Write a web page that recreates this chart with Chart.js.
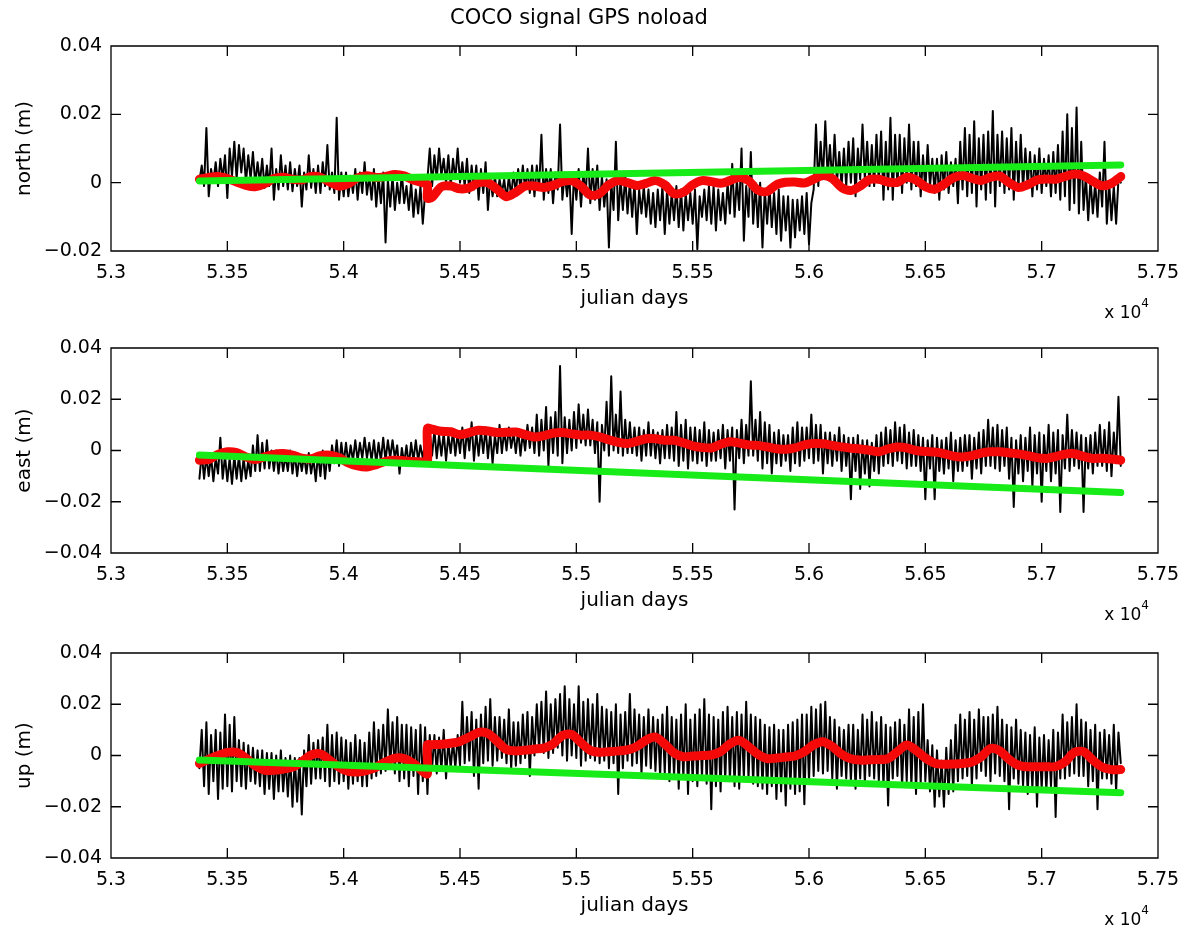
<!DOCTYPE html>
<html>
<head>
<meta charset="utf-8">
<title>COCO signal GPS noload</title>
<script src="https://cdn.jsdelivr.net/npm/chart.js@4.4.1/dist/chart.umd.min.js"></script>
<style>
  html, body { margin: 0; padding: 0; background: #fff; overflow: hidden; }
  #fig { position: relative; width: 1191px; height: 928px; }
  #fig canvas { position: absolute; left: 0; }
</style>
</head>
<body>
<div id="fig">
  <canvas id="north" width="1191" height="321" style="top:0px"></canvas>
  <canvas id="east" width="1191" height="321" style="top:302px"></canvas>
  <canvas id="up" width="1191" height="321" style="top:607px"></canvas>
</div>
<script>
// sample days (MJD) of the GPS series, every 10 days
var obsDays = [
    53380, 53390, 53400, 53410, 53420, 53430, 53440, 53450, 53460, 53470, 53480, 53490, 53500, 53510, 53520, 53530, 53540, 53550, 53560, 53570,
    53580, 53590, 53600, 53610, 53620, 53630, 53640, 53650, 53660, 53670, 53680, 53690, 53700, 53710, 53720, 53730, 53740, 53750, 53760, 53770,
    53780, 53790, 53800, 53810, 53820, 53830, 53840, 53850, 53860, 53870, 53880, 53890, 53900, 53910, 53920, 53930, 53940, 53950, 53960, 53970,
    53980, 53990, 54000, 54010, 54020, 54030, 54040, 54050, 54060, 54070, 54080, 54090, 54100, 54110, 54120, 54130, 54140, 54150, 54160, 54170,
    54180, 54190, 54200, 54210, 54220, 54230, 54240, 54250, 54260, 54270, 54280, 54290, 54300, 54310, 54320, 54330, 54340, 54350, 54360, 54370,
    54380, 54390, 54400, 54410, 54420, 54430, 54440, 54450, 54460, 54470, 54480, 54490, 54500, 54510, 54520, 54530, 54540, 54550, 54560, 54570,
    54580, 54590, 54600, 54610, 54620, 54630, 54640, 54650, 54660, 54670, 54680, 54690, 54700, 54710, 54720, 54730, 54740, 54750, 54760, 54770,
    54780, 54790, 54800, 54810, 54820, 54830, 54840, 54850, 54860, 54870, 54880, 54890, 54900, 54910, 54920, 54930, 54940, 54950, 54960, 54970,
    54980, 54990, 55000, 55010, 55020, 55030, 55040, 55050, 55060, 55070, 55080, 55090, 55100, 55110, 55120, 55130, 55140, 55150, 55160, 55170,
    55180, 55190, 55200, 55210, 55220, 55230, 55240, 55250, 55260, 55270, 55280, 55290, 55300, 55310, 55320, 55330, 55340, 55350, 55360, 55370,
    55380, 55390, 55400, 55410, 55420, 55430, 55440, 55450, 55460, 55470, 55480, 55490, 55500, 55510, 55520, 55530, 55540, 55550, 55560, 55570,
    55580, 55590, 55600, 55610, 55620, 55630, 55640, 55650, 55660, 55670, 55680, 55690, 55700, 55710, 55720, 55730, 55740, 55750, 55760, 55770,
    55780, 55790, 55800, 55810, 55820, 55830, 55840, 55850, 55860, 55870, 55880, 55890, 55900, 55910, 55920, 55930, 55940, 55950, 55960, 55970,
    55980, 55990, 56000, 56010, 56020, 56030, 56040, 56050, 56060, 56070, 56080, 56090, 56100, 56110, 56120, 56130, 56140, 56150, 56160, 56170,
    56180, 56190, 56200, 56210, 56220, 56230, 56240, 56250, 56260, 56270, 56280, 56290, 56300, 56310, 56320, 56330, 56340, 56350, 56360, 56370,
    56380, 56390, 56400, 56410, 56420, 56430, 56440, 56450, 56460, 56470, 56480, 56490, 56500, 56510, 56520, 56530, 56540, 56550, 56560, 56570,
    56580, 56590, 56600, 56610, 56620, 56630, 56640, 56650, 56660, 56670, 56680, 56690, 56700, 56710, 56720, 56730, 56740, 56750, 56760, 56770,
    56780, 56790, 56800, 56810, 56820, 56830, 56840, 56850, 56860, 56870, 56880, 56890, 56900, 56910, 56920, 56930, 56940, 56950, 56960, 56970,
    56980, 56990, 57000, 57010, 57020, 57030, 57040, 57050, 57060, 57070, 57080, 57090, 57100, 57110, 57120, 57130, 57140, 57150, 57160, 57170,
    57180, 57190, 57200, 57210, 57220, 57230, 57240, 57250, 57260, 57270, 57280, 57290, 57300, 57310, 57320, 57330, 57340
];

// GPS positions, mm
var northObsMm = [
    0.5, 5, -1, 16, -4, 4, 0, 6, -1, 7, 1, 8, -4.5, 10, 2, 12, 1, 11, 3, 10,
    0, 8, 1, 9, -0.5, 6, 0, 7, -1.5, 5, -1, 10, -5, 4, -2, 8, -1, 5, -2, 6,
    -2.5, 4, -1, 5, -7, 3, -2, 8, -1.5, 4, -3, 5, -3, 6, -1, 11, -2, 3, -3, 19,
    -5, 3, -4, 3, -4, 2, -3, 4, -5, 3, -3, 6, -3.5, 2, -5, 4, -7, 2, -6, 3,
    -17.5, 1, -7, 2, -8, 0, -6, 3, -6, -1, -8, 0, -10, -2, -9, -1, -12, -3, 1, 10,
    -1, 8, 1, 10, 2, 7, 0, 8, -1, 7, 1, 10, 0, 6, -1, 7, -3, 5, -2, 5,
    -5, 4, -3, 6, -8, 2, -4, 2, -4, 1, -3, 1, -5, 2, -4, 3, -3, 4, -2, 5,
    -2, 4, -3, 5, -4, 5, -2, 14, -5, 4, -3, 4, -6, 3, -2, 17, -5, 3, -4, 3,
    -15, 3, -5, 4, -7, 3, -4, 10, -6, 4, -5, 5, -8, 2, -7, 1, -19, 0, -8, 12,
    -11, 1, -8, 2, -9, 0, -10, 0, -15, -2, -9, -1, -10, -2, -12, -3, -13, -2, -11, -1,
    -15, -2, -12, -3, -11, -1, -13, -2, -14, -3, -11, -3, -12, -2, -19.5, -4, -10, -2, -11, -1,
    -12, -1, -14, -2, -11, -3, -12, 0, -9, 5.5, -10, 1, -8, 10, -17, -1, -10, 9, -12, 0,
    -13, 0, -19, -2, -12, -1, -13, -3, -15, -2, -17, -4, -14, -4, -19, -5, -16, -5, -14, -4,
    -15, -3, -18, -6, -2, 17, -1, 12, 1, 18, 2, 11, 0, 14, 0, 9, -1, 10, -1, 12,
    0, 13, -4, 10, 1, 17, 1, 12, -1, 11, -1, 14, 0, 15, -5, 12, -2, 19, -5, 14,
    -1, 14, -3, 13, 0, 17, -2, 12, -1, 12, -4, 8, -2, 11, -1, 7, -3, 7, -5, 8,
    -2, 9, -3, 6, -1, 7, -6, 12, -2, 16, -4, 14, -3, 18, -7, 13, -2, 14, -5, 15,
    -3, 21, -7, 14, -1, 15, -3, 13, -2, 16, -5, 12, -2, 14, -2, 10, -1, 9, -4, 8,
    -2, 10, -3, 7, -1, 8, -4, 9, -3, 11, -5, 15, -4, 20, -8, 16, -6, 22, -9, 12,
    -8, 2, -11, 1, -9, 0, -10, 3, -7, 12, -12, 0, -11, -1, -12, 1, 0
];
var eastObsMm = [
    -11, -1, -11, -2, -10, -2, -12, -3, -9, 5, -11, -2, -12, -3, -13, -2, -11, -2, -12, -3,
    -11, -4, -10, 2, -8, 6, -8, 3, -7, 4, -7, 0, -8, 0, -9, -1, -8, -2, -8, 0,
    -9, -1, -10, -2, -8, -2, -9, -1, -9, -3, -12, -1, -10, 0, -11, -1, -8, 2, -5, 4,
    -6, 3, -5, 3, -5, 2, -4, 4, -4, 3, -3, 5, -3, 3, -4, 4, -5, 3, -4, 5,
    -4, 4, -3, 4, -3, 2, -9, 1, -5, 2, -6, 3, -4, 4, -4, 2, -3, 3, -2, 7,
    -2, 8, -3, 6, -2, 7, -4, 6, -1, 8, -2, 7, -1, 9, -3, 8, 0, 11, -4, 7,
    -2, 8, -1, 9, -3, 7, -5, 6, -1, 10, -1, 8, 0, 9, 1, 7, -1, 8, -2, 7,
    0, 10, 1, 9, -1, 14, -2, 12, 0, 17, -6, 13, -1, 15, -2, 33, -5, 13, -1, 12,
    0, 15, 1, 18, 3, 14, 2, 16, 2, 12, -1, 11, -20, 10, 0, 19, -2, 29, 0, 14,
    -1, 23, -2, 12, -1, 11, -1, 9, -2, 9, -4, 8, -2, 11, -2, 8, -3, 7, -5, 8,
    -3, 10, -3, 9, -4, 15, -6, 10, -4, 12, -7, 9, -4, 9, -5, 8, -4, 11, -6, 8,
    -4, 7, -4, 8, -3, 10, -7, 8, -4, 9, -23, 8, -3, 12, -5, 10, -2, 27, -2, 12,
    -4, 15, -7, 11, -5, 10, -9, 7, -5, 8, -6, 6, -4, 6, -8, 9, -5, 11, -6, 9,
    -4, 9, -3, 14, -5, 10, -4, 10, -9, 7, -5, 7, -6, 6, -4, 9, -8, 6, -6, 5,
    -19, 5, -8, 6, -15, 4, -9, 4, -14, 3, -8, 6, -9, 7, -6, 9, -5, 8, -6, 11,
    -4, 9, -5, 10, -7, 7, -6, 8, -6, 6, -8, 5, -19, 4, -7, 6, -19, 5, -8, 4,
    -9, 5, -7, 7, -12, 4, -8, 5, -8, 6, -6, 6, -11, 5, -7, 7, -9, 8, -6, 12,
    -6, 9, -7, 10, -8, 8, -6, 9, -11, 5, -22, 4, -9, 6, -12, 5, -8, 9, -14, 6,
    -9, 7, -20, 6, -8, 10, -12, 7, -9, 8, -24, 6, -7, 14, -8, 8, -6, 7, -7, 6,
    -24, 5, -7, 6, -9, 7, -6, 10, -6, 8, -8, 11, -10, 7, -5, 21, -6
];
var upObsMm = [
    -5, 10, -12, 13, -15, 8, -10, 10, -17, 9, -13, 16, -12, 12, -14, 15, -10, 6, -12, 5,
    -13, 4, -10, 3, -11, 2, -12, 2, -15, 1, -13, 1, -17, 0, -14, 2, -14, -1, -16, 0,
    -20, -1, -18, -1, -23, 2, -12, 8, -11, 5, -9, 6, -9, 7, -10, 12, -12, 8, -10, 9,
    -11, 7, -10, 6, -13, 5, -11, 8, -10, 6, -12, 5, -12, 9, -9, 13, -8, 10, -7, 12,
    -6, 18, -5, 13, -7, 15, -10, 12, -9, 12, -12, 11, -8, 10, -15, 12, -10, 11, -15, 8,
    -5, 8, -7, 7, -6, 10, -9, 6, -5, 6, -5, 8, -4, 21, -3, 15, -2, 17, -8, 14,
    -13, 16, -3, 19, -2, 22, -4, 15, -2, 15, -1, 14, -3, 18, -5, 13, -4, 13, -3, 16,
    -1, 17, -8, 15, 0, 20, 2, 21, 1, 25, -1, 20, 1, 22, 3, 24, 0, 27, -2, 22,
    0, 20, -1, 27, -4, 21, -2, 22, -1, 20, -2, 24, -3, 19, -2, 18, -5, 17, -3, 20,
    -15, 16, -5, 17, -2, 24, -4, 18, -3, 16, -7, 15, -4, 18, -5, 15, -6, 14, -8, 16,
    -7, 19, -10, 15, -8, 14, -13, 16, -9, 20, -15, 14, -10, 16, -12, 18, -9, 22, -11, 16,
    -21, 15, -12, 14, -14, 17, -10, 19, -10, 15, -12, 17, -13, 16, -9, 21, -9, 16, -11, 15,
    -12, 14, -13, 12, -15, 11, -12, 12, -17, 10, -14, 10, -19.5, 12, -13, 13, -15, 14, -14, 16,
    -19, 16, -10, 19, -8, 18, -6, 20, -7, 21, -6, 15, -9, 14, -13, 11, -8, 10, -9, 12,
    -10, 12, -13, 10, -9, 16, -11, 14, -8, 17, -9, 13, -10, 15, -12, 12, -19.5, 11, -9, 13,
    -8, 14, -12, 12, -10, 18, -12, 15, -15, 17, -11, 20, -10, 6, -14, 4, -20, 2, -16, -2,
    -20, 3, -15, 6, -14, 12, -10, 16, -9, 14, -8, 17, -12, 14, -9, 18, -6, 15, -8, 15,
    -10, 16, -7, 19, -8, 14, -10, 12, -21, 11, -9, 14, -11, 10, -12, 9, -15, 8, -13, 11,
    -20, 7, -13, 8, -14, 6, -12, 10, -24, 9, -9, 16, -9, 13, -8, 15, -7, 20, -8, 14,
    -8, 13, -12, 10, -10, 12, -21, 9, -9, 10, -9, 8, -11, 12, -14, 9, -3
];

// fitted signal (red), offset at 54360
var modelDays = [
    53380, 53420, 53460, 53500, 53540, 53580, 53620, 53660, 53700, 53740,
    53780, 53820, 53860, 53900, 53940, 53980, 54020, 54060, 54100, 54140,
    54180, 54220, 54260, 54300, 54340,
    54360, 54360,
    54380, 54420, 54460, 54500, 54540, 54580, 54620, 54660, 54700, 54740,
    54780, 54820, 54860, 54900, 54940, 54980, 55020, 55060, 55100, 55140,
    55180, 55220, 55260, 55300, 55340, 55380, 55420, 55460, 55500, 55540,
    55580, 55620, 55660, 55700, 55740, 55780, 55820, 55860, 55900, 55940,
    55980, 56020, 56060, 56100, 56140, 56180, 56220, 56260, 56300, 56340,
    56380, 56420, 56460, 56500, 56540, 56580, 56620, 56660, 56700, 56740,
    56780, 56820, 56860, 56900, 56940, 56980, 57020, 57060, 57100, 57140,
    57180, 57220, 57260, 57300, 57340
];
var northModelMm = [
    1.0, 1.5, 1.8, 1.2, 0.2, -0.8, -1.2, -0.3, 1.2, 1.6,
    1.0, 0.8, 1.8, 1.6, 0.2, -1.0, -0.3, 1.4, 2.0, 1.5,
    1.8, 2.4, 2.0, 0.8, 0.0,
    -0.5, -4.5,
    -4.3, -1.2, -1.0, -1.8, -1.5, 0.0, 0.0, -2.0, -4.1, -2.8,
    -1.0, -1.0, -1.4, -0.8, 0.3, 0.6, -1.0, -3.6, -3.2, -0.6,
    0.6, 0.0, -0.8, -0.2, 0.6, -0.6, -3.2, -2.8, -0.6, 0.6,
    0.3, -0.2, 0.6, 1.6, 0.6, -2.2, -2.6, -0.6, 0.1, 0.2,
    -0.1, 1.0, 2.1, 1.2, -1.4, -2.3, -1.0, 0.9, 1.0, 0.2,
    0.1, 1.6, 0.8, -1.2, -1.9, -0.5, 1.4, 2.1, 1.3, 0.6,
    1.6, 1.9, 0.0, -1.4, -0.6, 0.8, 1.1, 1.0, 1.8, 2.5,
    2.0, 0.4, -0.9, -0.2, 1.8
];
var eastModelMm = [
    -3.8, -3.5, -1.5, -0.5, -0.8, -2.5, -3.5, -2.5, -1.5, -1.2,
    -1.8, -3.0, -3.2, -2.0, -1.8, -2.8, -4.8, -6.0, -6.4, -5.5,
    -4.2, -3.8, -4.0, -4.3, -4.5,
    -4.5, 8.6,
    8.3, 7.5, 7.3, 6.2, 7.0, 7.9, 7.6, 7.0, 7.1, 7.2,
    6.2, 5.3, 5.8, 6.8, 7.0, 6.5, 6.0, 6.0, 5.3, 4.2,
    3.2, 2.7, 3.6, 4.6, 4.6, 4.0, 4.0, 3.0, 1.8, 1.2,
    1.0, 2.4, 3.4, 2.9, 2.2, 2.0, 1.4, 0.7, 0.5, 1.0,
    2.2, 2.7, 2.6, 2.0, 1.4, 0.9, 0.6, 0.1, -0.5, 0.6,
    1.4, 1.0, 0.0, -0.4, -0.6, -1.2, -2.2, -2.5, -2.0, -1.0,
    -0.5, -0.5, -0.9, -1.3, -2.0, -2.8, -3.1, -2.4, -1.4, -1.3,
    -2.3, -3.1, -3.0, -3.3, -3.8
];
var upModelMm = [
    -3.1, -1.5, 0.0, 1.2, 1.2, -1.0, -4.0, -5.7, -5.8, -5.3,
    -4.5, -2.5, 0.2, 0.6, -1.8, -4.5, -6.2, -6.4, -5.8, -4.5,
    -2.5, -1.0, -1.2, -3.1, -6.2,
    -7.1, 4.1,
    4.2, 4.4, 4.8, 5.5, 7.2, 9.0, 8.6, 5.5, 2.3, 1.8,
    2.1, 2.5, 2.9, 4.5, 7.8, 8.2, 5.0, 2.0, 1.3, 1.5,
    1.8, 2.2, 3.5, 6.0, 7.2, 4.5, 1.0, -0.5, -0.2, 0.0,
    0.2, 1.5, 4.5, 5.9, 3.5, 0.5, -1.2, -1.0, -0.6, -0.2,
    1.5, 4.2, 5.4, 3.5, 0.5, -1.3, -1.8, -1.7, -1.6, -1.2,
    1.5, 4.1, 2.0, -1.0, -3.0, -3.4, -3.3, -3.1, -2.5, -0.5,
    2.7, 1.8, -1.5, -3.8, -4.4, -4.4, -4.4, -4.3, -2.5, 1.2,
    1.5, -1.8, -4.5, -5.5, -5.5
];

// linear trend (green)
var trendDays = [53380, 57340];
var northTrendMm = [0.5, 5.2];
var eastTrendMm = [-1.8, -16.4];
var upTrendMm = [-1.8, -14.5];

// axes
var xTickDays = [53000, 53500, 54000, 54500, 55000, 55500, 56000, 56500, 57000, 57500];
var xTickLabels = ['5.3', '5.35', '5.4', '5.45', '5.5', '5.55', '5.6', '5.65', '5.7', '5.75'];
var northYTicks = [-0.02, 0, 0.02, 0.04];
var northYLabels = ['\u22120.02', '0', '0.02', '0.04'];
var enuYTicks = [-0.04, -0.02, 0, 0.02, 0.04];
var enuYLabels = ['\u22120.04', '\u22120.02', '0', '0.02', '0.04'];

var RED = 'rgb(245,8,8)';
var GREEN = 'rgb(24,236,24)';
var FONT = '"DejaVu Sans", "Liberation Sans", sans-serif';

Chart.defaults.font.family = FONT;
Chart.defaults.color = '#000';

function toPoints(days, mm) {
    return days.map(function (d, i) { return {x: d, y: mm[i] / 1000}; });
}

// matlab style frame: box, inward ticks on all sides, "x 10^4" exponent
var matlabAxes = {
    id: 'matlabAxes',
    afterDraw: function (chart) {
        var ctx = chart.ctx, a = chart.chartArea;
        var sx = chart.scales.x, sy = chart.scales.y;
        ctx.save();
        ctx.strokeStyle = '#000';
        ctx.lineWidth = 1.3;
        ctx.beginPath();
        ctx.rect(a.left, a.top, a.right - a.left, a.bottom - a.top);
        sx.ticks.forEach(function (t) {
            var p = sx.getPixelForValue(t.value);
            ctx.moveTo(p, a.bottom); ctx.lineTo(p, a.bottom - 10);
            ctx.moveTo(p, a.top); ctx.lineTo(p, a.top + 10);
        });
        sy.ticks.forEach(function (t) {
            var p = sy.getPixelForValue(t.value);
            ctx.moveTo(a.left, p); ctx.lineTo(a.left + 10, p);
            ctx.moveTo(a.right, p); ctx.lineTo(a.right - 10, p);
        });
        ctx.stroke();

        ctx.fillStyle = '#000';
        ctx.textAlign = 'right';
        ctx.textBaseline = 'alphabetic';
        ctx.font = '12px ' + FONT;
        ctx.fillText('4', a.right - 9, a.bottom + 56);
        var w = ctx.measureText('4').width;
        ctx.font = '17px ' + FONT;
        ctx.fillText('x 10', a.right - 9 - w, a.bottom + 67);
        ctx.restore();
    }
};

function makePanel(sId, sYLabel, aYTicks, aYLabels, aObs, aModel, aTrend, bTitle) {
    return new Chart(document.getElementById(sId), {
        type: 'line',
        data: {
            datasets: [
                {label: 'trend', data: toPoints(trendDays, aTrend), borderColor: GREEN, borderWidth: 7, order: 0},
                {label: 'signal', data: toPoints(modelDays, aModel), borderColor: RED, borderWidth: 9, tension: 0.3, order: 1},
                {label: 'GPS', data: toPoints(obsDays, aObs), borderColor: '#000', borderWidth: 2, order: 2}
            ]
        },
        options: {
            responsive: false,
            animation: false,
            events: [],
            layout: {padding: {top: bTitle ? 0 : 46, right: 33, left: 0, bottom: 0}},
            elements: {
                point: {radius: 0},
                line: {borderCapStyle: 'round', borderJoinStyle: 'round', fill: false}
            },
            plugins: {
                legend: {display: false},
                tooltip: {enabled: false},
                title: {
                    display: bTitle,
                    text: 'COCO signal GPS noload',
                    font: {size: 21, weight: 'normal'},
                    padding: {top: 6, bottom: 14.8}
                }
            },
            scales: {
                x: {
                    type: 'linear',
                    min: xTickDays[0],
                    max: xTickDays[xTickDays.length - 1],
                    afterBuildTicks: function (s) {
                        s.ticks = xTickDays.map(function (v) { return {value: v}; });
                    },
                    afterFit: function (s) { s.height = 70; },
                    grid: {display: false, drawTicks: false},
                    border: {display: false},
                    ticks: {
                        autoSkip: false, maxRotation: 0, padding: 11,
                        font: {size: 19},
                        callback: function (v, i) { return xTickLabels[i]; }
                    },
                    title: {display: true, text: 'julian days', font: {size: 20}, padding: {top: 0, bottom: 10}}
                },
                y: {
                    min: aYTicks[0],
                    max: aYTicks[aYTicks.length - 1],
                    afterBuildTicks: function (s) {
                        s.ticks = aYTicks.map(function (v) { return {value: v}; });
                    },
                    afterFit: function (s) { s.width = 111; },
                    grid: {display: false, drawTicks: false},
                    border: {display: false},
                    ticks: {
                        autoSkip: false, padding: 9,
                        font: {size: 19},
                        callback: function (v, i) { return aYLabels[i]; }
                    },
                    title: {display: true, text: sYLabel, font: {size: 20}, padding: {top: 13, bottom: 0}}
                }
            }
        },
        plugins: [matlabAxes]
    });
}

makePanel('north', 'north (m)', northYTicks, northYLabels, northObsMm, northModelMm, northTrendMm, true);
makePanel('east', 'east (m)', enuYTicks, enuYLabels, eastObsMm, eastModelMm, eastTrendMm, false);
makePanel('up', 'up (m)', enuYTicks, enuYLabels, upObsMm, upModelMm, upTrendMm, false);
</script>
</body>
</html>
